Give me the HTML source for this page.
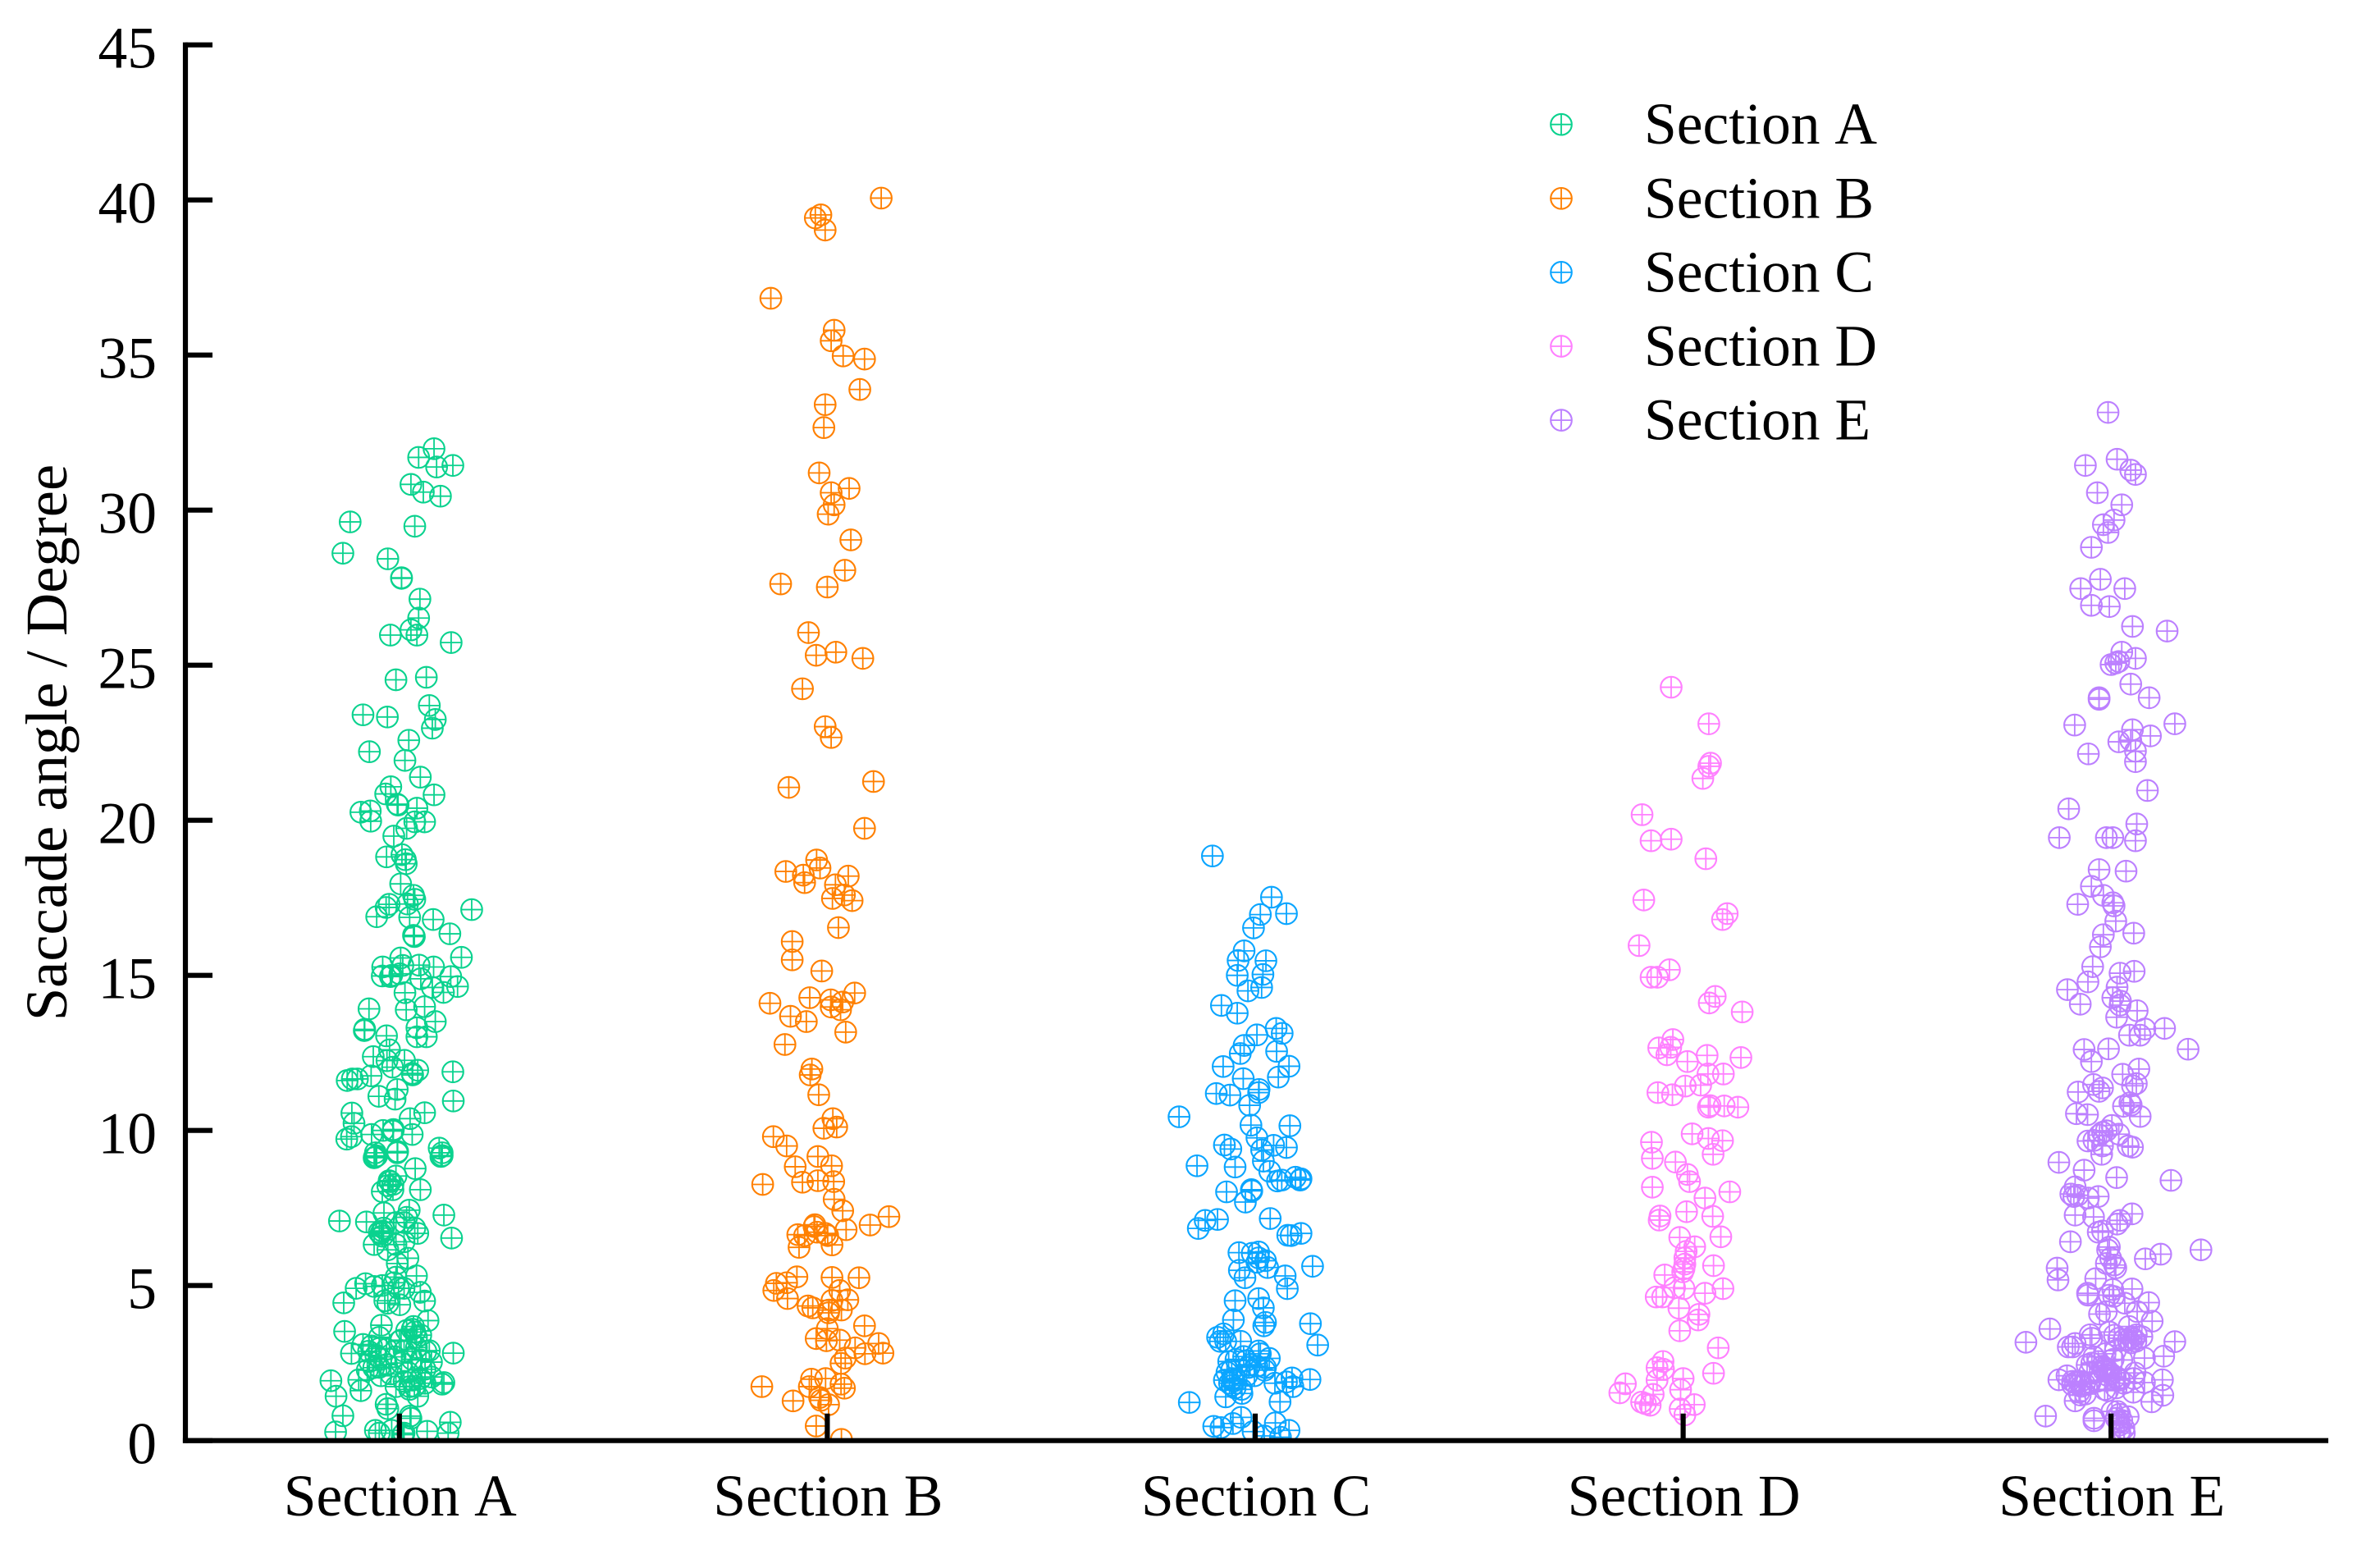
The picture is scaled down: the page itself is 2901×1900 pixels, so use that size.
<!DOCTYPE html>
<html lang="en">
<head>
<meta charset="utf-8">
<title>Saccade angle by section</title>
<style>
html,body{margin:0;padding:0;background:#fff;}
svg{display:block;}
text{font-family:"Liberation Serif","Times New Roman",serif;fill:#000;font-size:71.5px;font-kerning:none;}
</style>
</head>
<body>
<svg id="chart" xmlns="http://www.w3.org/2000/svg" width="2901" height="1900" viewBox="0 0 2901 1900">
  <defs><clipPath id="plot-clip"><rect x="226" y="40" width="2640" height="1713"></rect></clipPath></defs>
  <rect x="0" y="0" width="2901" height="1900" fill="#fff"></rect>
  <g id="series" clip-path="url(#plot-clip)"></g>
  <g id="axes"></g>
  <text text-anchor="middle" transform="translate(81 905) rotate(-90)" style="font-size:72.5px">Saccade angle / Degree</text>
  <g id="legend"></g>
</svg>
<script>
const categories = ["Section A","Section B","Section C","Section D","Section E"];
const yTicks = [0,5,10,15,20,25,30,35,40,45];
const colors = ["#0AD28E","#FF8000","#0AA5FF","#FF80FF","#BC80FF"];

const valuesA = [
31.98,31.70,31.39,31.44,30.83,30.58,30.45,29.62,29.48,28.61,
28.43,27.82,27.80,27.13,26.52,25.97,26.14,25.97,25.73,24.53,
24.61,23.70,23.40,23.33,23.25,22.97,22.58,22.21,21.93,21.39,
20.82,21.08,20.85,20.52,20.49,20.39,20.26,20.30,19.97,19.74,
19.95,19.95,19.49,18.82,18.89,18.73,18.60,17.95,17.58,17.45,
17.30,17.29,17.19,16.89,17.12,16.87,16.80,16.34,16.25,16.29,
15.58,15.56,15.32,15.33,15.27,15.27,14.98,14.96,15.05,15.00,
14.89,14.96,14.64,14.61,14.45,14.44,13.99,13.92,13.89,13.51,
13.31,13.26,13.22,13.02,13.02,13.05,12.60,12.38,12.25,12.04,
12.26,11.94,11.79,11.84,11.76,11.66,11.66,11.61,11.89,10.95,
11.32,11.10,11.01,10.56,10.57,10.38,10.23,10.00,9.98,10.03,
9.87,9.87,9.80,9.72,9.43,9.28,9.28,9.28,9.15,9.18,
9.12,9.32,9.19,9.16,8.77,8.09,8.53,8.35,8.38,8.26,
8.22,8.03,8.09,7.27,7.08,7.05,6.53,7.34,7.43,6.76,
6.68,6.85,6.59,6.72,7.03,7.03,7.20,6.85,6.68,6.32,
6.15,6.32,6.41,5.88,5.71,5.31,5.06,4.91,4.44,4.97,
5.00,5.27,5.09,4.91,4.91,4.78,4.50,4.51,4.43,4.38,
3.87,3.52,3.72,3.55,3.68,3.59,3.50,3.33,3.33,3.10,
2.81,2.82,2.97,2.88,3.24,2.88,2.88,2.53,2.62,2.62,
2.27,2.36,2.09,1.93,1.43,0.80,0.28,1.96,1.61,1.87,
1.82,2.00,1.65,1.91,1.43,1.74,1.17,1.03,0.79,0.72,
0.59,0.30,0.24,0.33,0.24,0.33,0.24,0.19,1.74,
3.05,2.75,2.95,2.45,2.15,3.20,2.70,2.50,2.20,1.95,
1.75,3.40,3.00,2.60,2.30,1.85,2.90,2.55,2.35,2.05
];
const jitterA = [
.081,.045,.087,.125,.027,.056,.096,-.115,.036,-.132,
-.027,.005,.005,.048,.045,-.021,.027,.041,.121,-.008,
.063,.070,-.085,-.028,.084,.077,.022,-.070,.013,.049,
.081,-.020,-.032,-.005,-.003,.041,-.090,-.068,-.067,.017,
.036,.059,-.013,-.030,.006,.014,.016,.003,.033,.036,
.019,-.024,-.031,-.053,.169,.024,.079,.118,.035,.033,
.145,.003,.008,.046,.080,-.039,-.040,-.021,.001,-.018,
.050,.120,.136,.077,.103,.013,.059,-.071,.016,.084,
.041,-.081,-.082,.041,.063,-.030,-.023,-.061,-.029,-.016,
.012,.043,.031,.030,-.066,-.098,-.110,-.122,.125,.126,
-.005,-.048,-.010,-.111,.059,.025,-.106,-.038,-.015,-.014,
-.065,.030,-.112,-.123,.093,.100,-.056,-.005,-.056,-.053,
-.059,-.004,.100,.097,.037,.049,-.008,-.021,-.024,-.015,
-.027,-.040,-.015,.104,-.140,-.077,.122,-.036,.023,-.040,
-.043,-.037,-.040,-.047,-.008,.011,.017,.036,.043,-.059,
-.027,-.008,.011,.020,-.005,.040,-.079,-.101,-.130,-.059,
-.040,-.008,-.012,-.002,.011,.049,.059,-.034,-.027,.001,
.067,-.128,-.042,.017,.033,.030,.036,.040,-.047,-.085,
-.112,.126,-.047,-.072,.004,.011,.062,.075,.030,-.043,
-.075,-.047,-.043,-.160,-.148,-.132,-.149,-.095,-.090,.104,
.100,.049,.024,.011,.043,-.008,-.031,-.027,.025,.027,
.119,.065,.114,-.056,-.047,-.018,.011,.008,.024,
-.065,-.055,-.030,-.030,-.020,0,-.010,.005,.020,.030,
.035,.050,.040,.050,.060,.060,.070,-.070,-.060,.075
];

const valuesB = [
40.06,39.42,39.52,39.03,36.83,35.80,35.46,34.97,34.87,33.89,
33.40,32.66,31.20,30.70,30.56,30.17,29.87,29.04,28.06,27.62,
27.52,26.05,25.42,25.32,25.22,24.24,23.02,22.67,21.25,21.06,
19.74,18.72,18.46,18.35,18.23,17.99,18.20,17.92,17.59,17.48,
17.41,16.54,16.09,15.50,15.14,14.43,14.28,14.21,14.14,13.98,
13.89,14.10,13.68,13.51,13.17,12.77,11.98,11.79,11.15,10.38,
10.07,10.11,9.80,9.50,9.16,8.86,8.83,8.26,8.33,8.38,
8.35,7.78,7.41,6.80,6.95,7.22,6.96,6.90,6.64,6.61,
6.72,6.68,6.61,6.23,6.31,5.28,5.26,5.25,5.07,5.09,
4.84,4.58,4.84,4.54,4.52,4.34,4.28,4.21,4.12,4.21,
3.70,3.61,3.29,3.22,3.24,2.99,3.13,2.80,2.82,2.66,
2.49,1.98,2.00,1.74,1.82,1.69,1.74,1.28,1.39,1.30,
1.16,0.47,0.04
];
const jitterB = [
.126,-.028,-.015,-.005,-.132,.016,.009,.037,.087,.076,
-.005,-.008,-.019,.051,.009,.016,.002,.055,.041,-.109,
0,-.044,.020,-.026,.083,-.058,-.005,.009,.108,-.090,
.087,-.025,-.017,-.097,-.056,-.053,.049,.019,.040,.012,
.058,.026,-.082,-.082,-.013,.064,-.041,.008,.036,.009,
.031,-.134,-.086,-.049,.043,-.099,-.036,-.040,-.020,.013,
-.008,.022,-.126,-.095,-.022,.010,-.075,-.151,-.058,-.022,
.015,.016,.036,.044,.100,.144,-.029,-.031,-.069,-.053,
-.024,-.005,.001,-.066,.011,-.071,.011,.074,-.119,-.095,
-.125,-.093,.029,.048,.011,-.045,-.034,.033,.003,.004,
.087,0,-.026,-.002,.029,.065,.120,.088,.130,.042,
.032,-.037,-.004,-.042,.032,.040,-.153,-.080,-.018,-.015,
.003,-.026,.033
];

const valuesC = [
18.85,17.52,16.96,16.99,16.53,15.79,15.48,15.47,15.00,15.03,
14.50,14.61,14.03,13.78,13.29,13.13,13.08,12.74,12.48,12.55,
12.06,12.07,11.72,11.67,11.32,11.22,11.19,11.14,10.81,10.44,
10.17,10.15,9.76,9.52,9.53,9.40,9.45,9.37,9.01,8.86,
8.82,8.68,8.49,8.40,8.40,8.37,8.44,8.02,8.05,8.09,
7.69,7.16,7.13,7.10,6.84,6.62,6.61,6.68,6.06,6.04,
6.08,5.89,5.75,5.80,5.58,5.49,5.25,5.31,4.90,5.62,
4.51,4.58,4.28,3.89,3.81,3.70,3.77,3.08,3.44,3.33,
3.20,3.20,3.20,2.89,2.65,2.62,2.71,2.58,2.36,2.27,
2.27,2.09,2.00,1.92,1.78,1.70,1.52,1.41,1.85,1.89,
2.02,1.74,1.97,1.25,1.23,0.75,0.55,0.46,0.42,0.57,
0.33,0.29,0.15,0.11,
2.55,2.45,2.20,2.10,1.95,1.85,2.40,2.80,1.65,2.35
];
const jitterC = [
-.100,.038,.012,.073,-.004,-.026,-.040,.025,-.042,.018,
-.017,.015,-.079,-.042,.049,.063,.004,-.026,-.035,.050,
-.075,.079,.054,-.028,.009,.008,-.091,-.059,-.013,-.178,
-.010,.081,.004,.043,-.072,-.057,.073,.015,.019,-.136,
-.047,.034,.094,.105,.062,.052,.107,-.067,-.008,-.009,
-.023,.035,-.088,-.117,-.133,.076,.084,.107,-.038,-.007,
.008,.008,.004,.024,.029,-.037,-.024,.070,.075,.134,
-.047,.008,.019,-.051,.024,.020,.129,.146,-.074,-.088,
-.082,-.069,-.034,.008,.033,-.045,-.027,-.021,-.015,.022,
-.055,-.002,-.053,-.050,-.054,-.047,-.031,-.069,.046,.073,
.086,.088,.128,.058,-.154,-.033,-.052,-.097,-.080,.047,
.079,-.005,.021,.059,
-.062,-.012,-.066,-.020,-.072,-.060,.004,.012,-.032,.024
];

const valuesD = [
24.29,23.11,21.84,21.74,21.35,20.18,19.34,19.39,18.76,17.43,
16.99,16.80,15.96,15.18,14.94,14.94,14.32,14.11,13.82,12.93,
12.66,12.68,12.44,12.22,12.42,12.35,11.82,11.82,11.43,11.46,
11.22,11.15,10.75,10.80,10.79,10.75,9.89,9.74,9.67,9.23,
9.62,9.10,8.98,8.58,8.35,8.17,7.82,8.02,7.38,7.23,
7.24,7.11,6.57,6.55,6.25,6.10,5.89,5.69,5.54,5.44,
5.64,5.34,4.90,4.75,4.90,4.93,4.63,4.63,4.27,4.07,
3.89,3.54,2.99,2.17,2.55,2.35,2.30,1.95,2.00,1.64,
1.49,1.83,1.54,1.24,1.19,1.14,1.16,1.02,0.83
];
const jitterD = [
-.028,.060,.064,.060,.046,-.096,-.075,-.028,.053,-.092,
.103,.092,-.103,-.032,-.075,-.060,.075,.061,.138,-.024,
-.057,-.029,-.038,.010,.056,.135,.058,.094,.005,.041,
-.059,-.025,.059,.063,.096,.128,.021,.059,.092,.070,
-.074,-.072,-.018,.010,.015,-.072,.051,.109,.008,.069,
-.054,-.056,.088,-.008,.027,.007,.004,.004,.002,-.001,
.071,-.043,.093,.051,.002,-.020,-.063,-.048,-.010,.037,
.035,-.008,.082,.071,-.047,-.061,-.046,-.061,0,-.006,
-.070,-.135,-.148,-.097,-.088,-.077,.026,-.007,.004
];

const valuesE = [
33.15,31.44,31.64,31.29,31.15,30.56,30.17,29.53,29.68,29.28,
28.80,27.77,27.47,27.47,26.93,26.89,26.25,26.10,25.42,25.12,
25.22,25.02,25.07,24.39,23.95,23.90,23.95,23.07,23.11,22.92,
22.72,22.58,22.53,22.14,22.23,21.89,20.96,20.37,19.88,19.44,
19.44,19.44,19.34,18.41,18.36,17.87,17.58,17.34,17.24,17.29,
16.75,16.36,16.31,15.92,15.28,15.07,15.13,14.79,14.54,14.62,
14.28,14.17,14.04,14.07,13.86,13.65,13.27,13.07,13.07,13.29,
12.62,12.61,12.63,12.22,11.98,11.81,11.51,11.44,11.48,11.37,
11.26,11.24,10.89,10.82,10.78,10.45,10.54,10.51,10.16,9.99,
9.94,9.88,9.85,9.66,9.68,9.50,9.46,9.50,8.97,8.72,
8.48,8.39,9.23,8.18,7.95,7.87,7.91,7.82,7.87,7.27,
7.21,7.31,7.10,6.98,6.72,6.76,6.41,6.24,6.15,6.15,
6.01,5.86,5.88,5.71,5.66,5.57,5.56,5.18,5.22,4.75,
4.69,4.89,4.87,4.65,4.69,4.45,4.43,4.16,4.08,4.16,
3.85,3.60,3.68,3.33,3.28,3.41,3.24,3.15,3.41,3.19,
3.17,3.13,3.02,3.02,3.50,2.66,2.72,2.80,2.62,2.44,
2.09,1.96,1.96,2.18,2.00,1.87,2.00,2.27,1.87,1.91,
1.83,1.87,1.91,1.91,1.56,1.47,1.28,1.61,1.56,1.25,
1.46,0.79,0.72,0.64,0.77,0.94,0.72,0.59,0.94,0.24,
0.24,
3.35,3.30,3.25,3.20,3.40,3.30,2.55,2.40,2.30,2.15,
2.05,1.95,1.85,2.70,2.50,2.20,1.75,1.65,1.80,1.70,
1.95,2.10,2.35,2.90,2.60,1.50,0.85,0.65,0.50,0.40,
0.30
];
const jitterE = [
-.007,-.060,.014,.046,.057,-.032,.025,-.018,.007,-.007,
-.046,-.025,-.071,.032,-.046,-.004,.050,.131,.025,.018,
.057,0,.011,.046,-.028,-.028,.089,-.085,.149,.050,
.092,.046,.018,-.053,.057,.057,.085,-.099,.060,-.121,
-.011,.004,.057,-.028,.035,-.046,-.018,.004,.007,-.078,
.011,.053,-.018,-.025,-.043,.021,.054,-.054,-.102,.014,
.004,.022,.021,-.072,.061,.013,.079,.043,.068,.125,
.180,-.063,-.006,-.046,.065,.027,.059,.050,-.041,-.020,
-.028,-.077,.044,.047,.029,.068,-.081,-.055,.002,-.011,
-.020,.018,-.027,-.054,-.040,.040,.050,-.020,-.122,-.063,
.013,.140,-.022,-.084,-.094,-.087,-.078,-.053,-.030,-.084,
-.041,.049,.021,.014,-.030,-.020,-.095,-.004,-.008,.210,
.116,.080,-.001,-.011,.008,.011,-.126,-.124,-.036,-.055,
-.054,.049,.004,.006,-.004,.088,.032,-.011,-.027,.061,
.096,-.143,.042,.047,.053,.059,.040,.047,-.049,.149,
-.199,-.084,-.090,-.100,-.004,.078,.123,-.014,.005,-.056,
-.103,-.122,.120,.056,.053,.078,.018,-.017,-.084,-.071,
-.062,-.049,-.033,-.090,-.075,-.072,-.084,-.008,.052,.095,
.121,-.153,-.040,-.040,.040,.015,.012,.018,.002,.021,
.031,
.072,.018,.030,.058,.008,-.045,-.030,-.020,-.010,0,
.010,.020,.030,-.040,-.045,-.050,-.070,-.015,-.090,.012,
-.028,-.008,-.015,.010,.025,-.060,.020,.025,.020,.030,
.020
];

const seriesValues = [valuesA,valuesB,valuesC,valuesD,valuesE];
const seriesJitter = [jitterA,jitterB,jitterC,jitterD,jitterE];

const NS = "http://www.w3.org/2000/svg";
const plot = {left:226, right:2834, top:54.7, bottom:1755.7, xMin:0.5, xMax:5.5, yMin:0, yMax:45};
function xScale(v){ return plot.left + (v - plot.xMin) / (plot.xMax - plot.xMin) * (plot.right - plot.left); }
function yScale(v){ return plot.bottom - (v - plot.yMin) / (plot.yMax - plot.yMin) * (plot.bottom - plot.top); }
function make(tag, attrs, parent){
  const el = document.createElementNS(NS, tag);
  for (const k in attrs) el.setAttribute(k, attrs[k]);
  parent.appendChild(el);
  return el;
}
function drawMarker(parent, cx, cy, color, name){
  const r = 12.8;
  const g = make('g', {}, parent);
  
  
  make('circle', {cx:cx, cy:cy, r:r, fill:'none', stroke:color, 'stroke-width':2.1}, g);
  make('path', {d:'M'+(cx-r)+' '+cy+'H'+(cx+r)+'M'+cx+' '+(cy-r)+'V'+(cy+r), fill:'none', stroke:color, 'stroke-width':1.8}, g);
}

const seriesRoot = document.getElementById('series');
seriesValues.forEach(function(vals, s){
  const slug = categories[s].toLowerCase().replace(' ', '-');
  const group = make('g', {}, seriesRoot);
  
  
  const jit = seriesJitter[s];
  vals.forEach(function(v, i){
    drawMarker(group, xScale(s + 1 + (jit[i] || 0)), yScale(v), colors[s], slug + '-point');
  });
});

const axes = document.getElementById('axes');
const yAxisLine = make('line', {x1:xScale(plot.xMin), x2:xScale(plot.xMin), y1:yScale(45)-3.1, y2:yScale(0)+3.1, stroke:'#000', 'stroke-width':6.2}, axes);


const xAxisLine = make('line', {x1:xScale(plot.xMin)-3.1, x2:xScale(plot.xMax)+4, y1:yScale(0), y2:yScale(0), stroke:'#000', 'stroke-width':6.2}, axes);



yTicks.forEach(function(t){
  const y = yScale(t);
  const tick = make('line', {x1:xScale(plot.xMin), x2:xScale(plot.xMin)+33, y1:y, y2:y, stroke:'#000', 'stroke-width':6.2}, axes);
  
  
  const label = make('text', {x:191, y:y+28, 'text-anchor':'end'}, axes);
  
  
  label.textContent = String(t);
});
categories.forEach(function(c, i){
  const x = xScale(i + 1);
  const tick = make('line', {x1:x, x2:x, y1:yScale(0), y2:yScale(0)-33, stroke:'#000', 'stroke-width':6.2}, axes);
  
  
  const label = make('text', {x:x+1, y:1847, 'text-anchor':'middle'}, axes);
  
  
  label.textContent = c;
});

const legend = document.getElementById('legend');
categories.forEach(function(c, i){
  const rowY = 151.7 + i * 90.1;
  const entry = make('g', {}, legend);
  
  
  drawMarker(entry, 1903, rowY, colors[i], 'legend-marker');
  const t = make('text', {x:2004, y:rowY + 23.5}, entry);
  
  
  t.textContent = c;
});
</script>
</body>
</html>
